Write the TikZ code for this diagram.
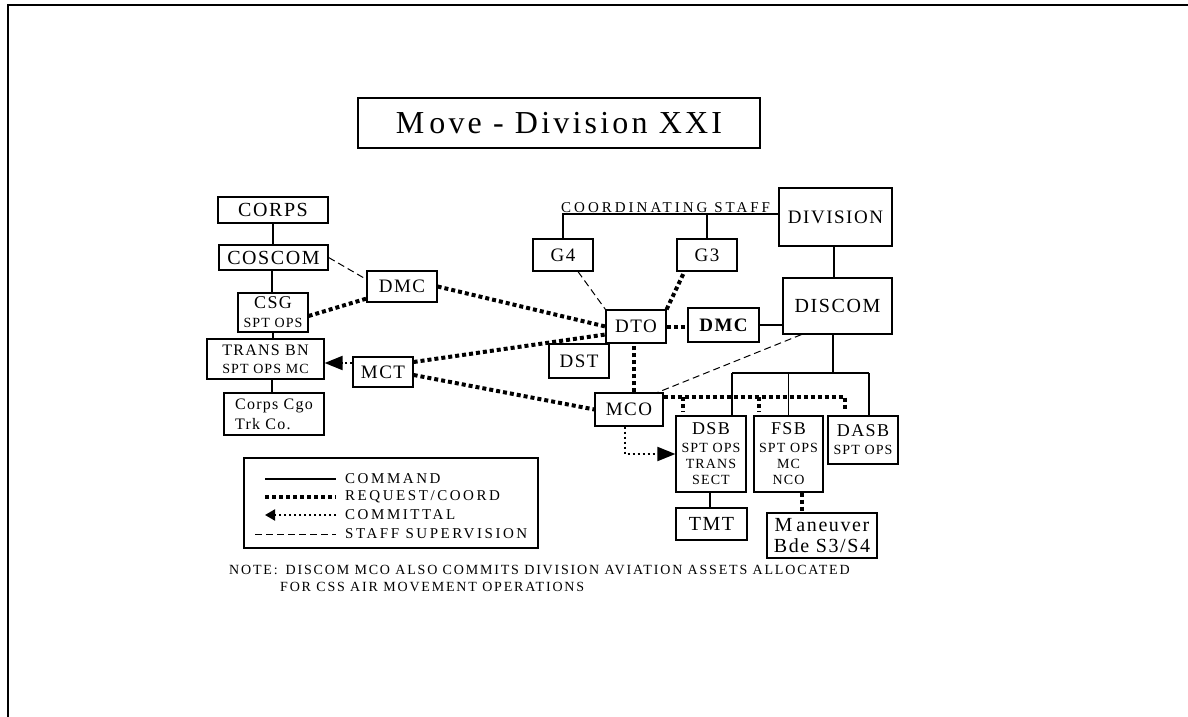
\documentclass[tikz,border=0pt]{standalone}
\usepackage{fontspec}
\setmainfont{Liberation Serif}[LetterSpace=8]
\usetikzlibrary{arrows.meta}

% font size helper: size and baseline skip in pt
\newcommand\fsz[2]{\fontsize{#1}{#2}\selectfont}

\tikzset{
  box/.style={draw, line width=1.2pt, inner sep=0pt, align=center, font=\fsz{19}{21}},
  cmd/.style={line width=1.2pt},
  req/.style={line width=4pt, dash pattern=on 4pt off 3pt},
  cmt/.style={line width=2pt, dash pattern=on 2pt off 3pt},
  sup/.style={line width=1pt, dash pattern=on 7pt off 4pt},
  bigtip/.style={-{Triangle[length=18pt,width=14pt]}},
  legtxt/.style={anchor=west, inner sep=0pt, font=\fsz{15}{17}\addfontfeature{LetterSpace=17}},
  notetxt/.style={anchor=west, inner sep=0pt, font=\fsz{14}{16}\addfontfeature{LetterSpace=13}}
}

\begin{document}
\begin{tikzpicture}[x=1pt,y=-1pt]
\useasboundingbox (0,0) rectangle (1188,717);

% page frame
\draw[line width=2pt] (8,717) -- (8,5) -- (1188,5);

% title
\node[draw, line width=1.2pt, inner sep=0pt, minimum width=402pt, minimum height=50pt,
      font=\fsz{32}{34}\addfontfeature{LetterSpace=10}] (title) at (559,123) {M\kern5pt ove - Division XXI};

% corps side
\node[box, minimum width=110pt, minimum height=26pt, font=\fsz{20}{22}] (corps) at (273,210) {CORPS};
\node[box, minimum width=109pt, minimum height=25pt, font=\fsz{20}{22}] (coscom) at (273.5,257.5) {COSCOM};
\node[box, minimum width=70pt, minimum height=39pt, font=\fsz{14}{19}] (csg) at (273,312.5) {{\fsz{18}{18}CSG}\\SPT OPS};
\node[box, minimum width=117pt, minimum height=40pt, font=\fsz{14}{18}] (transbn) at (265.5,359) {{\fsz{16}{16}TRANS BN}\\SPT OPS MC};
\node[box, minimum width=100pt, minimum height=42pt, align=left, font=\fsz{16}{20}] (cgo) at (274,414) {Corps Cgo\\Trk Co.};
\node[box, minimum width=70pt, minimum height=31pt] (dmcL) at (402,286.5) {DMC};
\node[box, minimum width=60pt, minimum height=30pt] (mct) at (383,372) {MCT};

% division side
\node[box, minimum width=60pt, minimum height=32pt] (g4) at (563,255) {G4};
\node[box, minimum width=60pt, minimum height=32pt] (g3) at (707,255) {G3};
\node[box, minimum width=113pt, minimum height=58pt] (division) at (835.5,217) {DIVISION};
\node[box, minimum width=109pt, minimum height=56pt, font=\fsz{20}{22}] (discom) at (837.5,306) {DISCOM};
\node[box, minimum width=60pt, minimum height=33pt] (dto) at (636,326.5) {DTO};
\node[box, minimum width=60pt, minimum height=34pt] (dst) at (579,361) {DST};
\node[box, minimum width=71pt, minimum height=34pt, font=\fsz{19}{21}\bfseries] (dmcR) at (723.5,325) {DMC};
\node[box, minimum width=68pt, minimum height=33pt] (mco) at (629,409.5) {MCO};
\node[box, minimum width=70pt, minimum height=76pt, font=\fsz{14}{16}] (dsb) at (711,454) {{\fsz{18}{18}DSB}\\[2pt]SPT OPS\\TRANS\\SECT};
\node[box, minimum width=69pt, minimum height=76pt, font=\fsz{14}{16}] (fsb) at (788.5,454) {{\fsz{18}{18}FSB}\\[2pt]SPT OPS\\MC\\NCO};
\node[box, minimum width=70pt, minimum height=48pt, font=\fsz{14}{18}] (dasb) at (863,440) {{\fsz{18}{18}DASB}\\SPT OPS};
\node[box, minimum width=71pt, minimum height=32pt, font=\fsz{20}{22}] (tmt) at (711.5,524) {TMT};
\node[box, minimum width=110pt, minimum height=45pt, font=\fsz{20}{21}] (maneuver) at (822,535.5) {M\kern4pt aneuver\\Bde S3/S4};

% command lines
\draw[cmd] (corps.south) -- (corps.south |- coscom.north);
\draw[cmd] ([xshift=-1.5pt]coscom.south) -- ([xshift=-1.5pt]coscom.south |- csg.north);
\draw[cmd] (csg.south) -- (csg.south |- transbn.north);
\draw[cmd] ([xshift=-2pt]cgo.north) -- ([xshift=-2pt]cgo.north |- transbn.south);

\coordinate (csy) at (0,214);
\draw[cmd] (g4.north) -- (g4.north |- csy) -- (csy -| division.west);
\draw[cmd] (g3.north) -- (g3.north |- csy);
\node[anchor=base west, inner sep=0pt, font=\fsz{15}{17}\addfontfeature{LetterSpace=20}] (coord) at (561,212) {COORDINATING STAFF};

\draw[cmd] ([xshift=-1.5pt]division.south) -- ([xshift=-1.5pt]division.south |- discom.north);
\draw[cmd] (dmcR.east) -- (dmcR.east -| discom.west);

\coordinate (busL) at (732,373);
\coordinate (busR) at (869,373);
\draw[cmd] ([xshift=-4.5pt]discom.south) -- ([xshift=-4.5pt]discom.south |- busL);
\draw[cmd] (busL) -- (busR);
\draw[cmd] (busL) -- (busL |- dsb.north);
\draw[cmd] (fsb.north) -- (fsb.north |- busL);
\draw[cmd] (busR) -- (busR |- dasb.north);
\draw[cmd] ([xshift=-1.5pt]tmt.north) -- ([xshift=-1.5pt]tmt.north |- dsb.south);

% request / coordination lines
\draw[req] ([yshift=-3.5pt]csg.east) -- ([yshift=4pt]dmcL.south west);
\draw[req] (dmcL.east) -- (dto.west);
\draw[req] ([yshift=10pt]mct.east) -- ([yshift=-8pt]dto.west);
\draw[req] ([yshift=-3pt]mct.east) -- (mco.west);
\draw[req] (dto.north east) -- ([xshift=8pt]g3.south west);
\draw[req] (dto.east) -- (dto.east -| dmcR.west);
\draw[req] ([xshift=5pt]mco.north) -- ([xshift=5pt]mco.north |- dto.south);

\coordinate (fanA) at (683,397);
\coordinate (fanB) at (759,397);
\coordinate (fanC) at (845,397);
\draw[req] (mco.north east |- fanA) -- (fanC) -- ([yshift=4pt]fanC |- dasb.north);
\draw[req] (fanA) -- ([yshift=4pt]fanA |- dsb.north);
\draw[req] (fanB) -- ([yshift=4pt]fanB |- fsb.north);
\draw[req] ([xshift=13.5pt]fsb.south) -- ([xshift=13.5pt]fsb.south |- maneuver.north);

% committal lines
\draw[cmt, bigtip] ([yshift=9pt]mct.west) -- ([yshift=9pt]mct.west -| transbn.east);
\draw[cmt, bigtip] ([xshift=-4pt]mco.south) |- (dsb.west);

% staff supervision lines
\draw[sup] (coscom.east) -- ([yshift=-9pt]dmcL.north west);
\draw[sup] ([xshift=15pt]g4.south) -- (dto.north west);
\draw[sup] ([xshift=19pt]discom.south west) -- ([xshift=-6pt]mco.north east);

% legend
\draw[line width=1.2pt] (244,458) rectangle (538,548);
\draw[cmd] (265,479) -- (336,479);
\draw[req] (265,497) -- (336,497);
\draw[cmt, -{Triangle[length=10pt,width=11pt]}] (336,515) -- (265,515);
\draw[sup] (255,534) -- (336,534);
\node[legtxt] (lg1) at (345,479) {COMMAND};
\node[legtxt] (lg2) at (345,497) {REQUEST/COORD};
\node[legtxt] (lg3) at (345,515) {COMMITTAL};
\node[legtxt] (lg4) at (345,534) {STAFF SUPERVISION};

% note
\node[notetxt] (note1) at (229,570)
  {NOTE:\hspace{8pt}DISCOM MCO ALSO COMMITS DIVISION AVIATION ASSETS ALLOCATED};
\node[notetxt] (note2) at (280,587)
  {FOR CSS AIR MOVEMENT OPERATIONS};
\end{tikzpicture}
\end{document}
